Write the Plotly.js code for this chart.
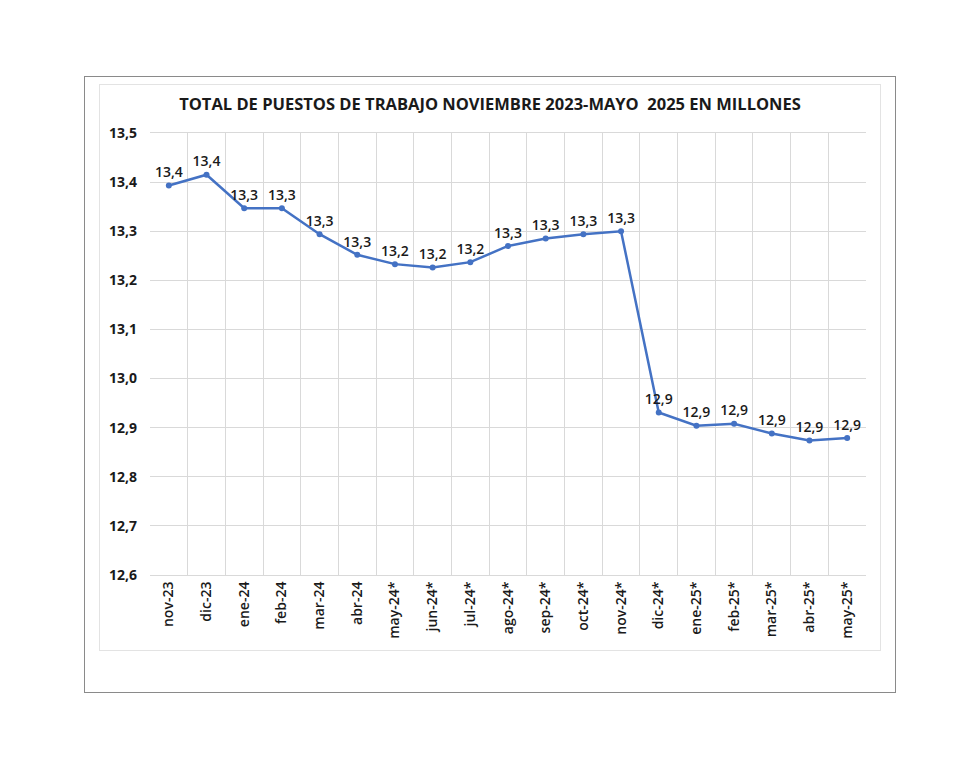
<!DOCTYPE html>
<html>
<head>
<meta charset="utf-8">
<script src="https://cdn.plot.ly/plotly-3.0.1.min.js"></script>
<style>
  body { margin:0; padding:0; background:#fff; }
  #outer { position:absolute; left:84px; top:76px; width:810px; height:615px; border:1px solid #8a8a8a; }
  #inner { position:absolute; left:99px; top:84px; width:780px; height:565px; border:1px solid #e3e3e3; }
  #chart { position:absolute; left:0; top:0; width:980px; height:770px; }
</style>
</head>
<body>
<div id="outer"></div>
<div id="inner"></div>
<div id="chart"></div>
<script>
const categories = ["nov-23","dic-23","ene-24","feb-24","mar-24","abr-24","may-24*","jun-24*","jul-24*","ago-24*","sep-24*","oct-24*","nov-24*","dic-24*","ene-25*","feb-25*","mar-25*","abr-25*","may-25*"];
const puestos = [13.393,13.415,13.347,13.347,13.294,13.252,13.233,13.226,13.237,13.270,13.285,13.294,13.300,12.931,12.904,12.908,12.888,12.874,12.879];
const yTicks = [12.6,12.7,12.8,12.9,13.0,13.1,13.2,13.3,13.4,13.5];
const chartTitle = "TOTAL DE PUESTOS DE TRABAJO NOVIEMBRE 2023-MAYO  2025 EN MILLONES";

const font = "Open Sans, Lato, sans-serif";
const trace = {
  x: categories, y: puestos, type: "scatter", mode: "lines+markers+text",
  line: {color: "#4472C4", width: 2.5},
  marker: {color: "#4472C4", size: 6},
  texttemplate: "%{y:.1f}", textposition: "top center",
  textfont: {family: font, size: 14, color: "#1a1a1a", weight: 600},
  cliponaxis: false, hoverinfo: "skip"
};
const layout = {
  width: 980, height: 770,
  margin: {l:150, r:114, t:133, b:195},
  paper_bgcolor: "rgba(0,0,0,0)", plot_bgcolor: "#fff",
  separators: ",.",
  showlegend: false,
  title: {text: chartTitle, x: 0.5, xref: "container", xanchor: "center", y: 0.865, yanchor: "middle",
          font: {family: font, size: 16.5, color: "#1a1a1a", weight: "bold"}},
  xaxis: {type: "category", range: [-0.5, 18.5], autorange: false, tickson: "boundaries", showgrid: true, gridcolor: "#d9d9d9", gridwidth: 1,
          tickangle: -90, ticks: "", showline: true, linecolor: "#d9d9d9", mirror: true,
          tickfont: {family: font, size: 14, color: "#1a1a1a", weight: 600}, fixedrange: true},
  yaxis: {range: [12.6, 13.5], autorange: false, tickvals: yTicks, tickformat: ".1f", showgrid: true, gridcolor: "#d9d9d9",
          zeroline: false, ticks: "", ticklabelstandoff: 12, showline: false,
          tickfont: {family: font, size: 14, color: "#1a1a1a", weight: "bold"}, fixedrange: true}
};
Plotly.newPlot("chart", [trace], layout, {displayModeBar: false, staticPlot: true});
</script>
</body>
</html>
